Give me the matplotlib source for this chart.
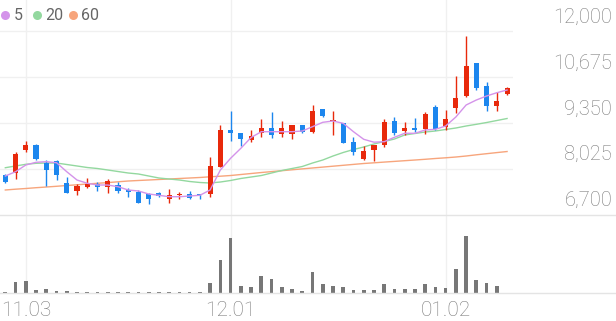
import matplotlib
matplotlib.use("Agg")
import matplotlib.pyplot as plt
from matplotlib.lines import Line2D
import numpy as np

# ---------------- data ----------------
opens  = [7835, 7893, 8568, 8713, 8183, 8241, 7604, 7381, 7488, 7583,
          7505, 7563, 7418, 7360, 7285, 7314, 7149, 7256, 7294, 7285,
          7294, 8084, 9156, 9069, 8858, 9052, 9214, 9023, 9031, 9292,
          9081, 9755, 9408, 9359, 8808, 8299, 8568, 8713, 9416, 9127,
          9214, 9167, 9804, 9225, 9776, 10132, 11079, 10430, 9851, 10190]
highs  = [7873, 8519, 8837, 8733, 8278, 8278, 7795, 7575, 7748, 7633,
          7719, 7641, 7459, 7400, 7331, 7352, 7447, 7343, 7389, 7285,
          8374, 9292, 9689, 9069, 9147, 9466, 9677, 9408, 9292, 9292,
          9871, 9755, 9697, 9359, 8953, 8684, 8713, 9466, 9515, 9387,
          9486, 9660, 9871, 9726, 10720, 11869, 11079, 10529, 10239, 10401]
lows   = [7604, 7719, 8519, 8270, 7525, 7699, 7314, 7256, 7459, 7381,
          7314, 7314, 7215, 7024, 7004, 7198, 7024, 7149, 7140, 7140,
          7198, 8067, 8829, 8684, 8808, 8953, 8907, 8953, 8878, 9060,
          9052, 9515, 8994, 8762, 8423, 8278, 8258, 8663, 9002, 9002,
          9098, 9023, 9147, 9147, 9648, 10112, 10306, 9706, 9706, 10161]
closes = [7650, 8452, 8704, 8316, 7989, 7844, 7331, 7534, 7592, 7505,
          7670, 7381, 7352, 7042, 7149, 7236, 7256, 7294, 7178, 7256,
          8105, 9147, 9069, 8895, 8973, 9196, 9002, 9196, 9292, 9081,
          9706, 9553, 9425, 8779, 8501, 8539, 8713, 9370, 9052, 9205,
          9147, 9610, 9167, 9474, 10083, 11001, 10372, 9842, 9996, 10355]
volumes = [7000, 110000, 120000, 30000, 37000, 20000, 20000, 9000, 9000, 9000,
           9000, 9000, 9000, 9000, 9000, 9000, 9000, 9000, 9000, 9000,
           103000, 327000, 550000, 70000, 60000, 170000, 143000, 60000, 37000, 21000,
           210000, 93000, 67000, 60000, 33000, 33000, 33000, 93000, 37000, 37000,
           40000, 87000, 60000, 55000, 237000, 573000, 130000, 103000, 67000, 3000]
ma5 = [7815, 7939, 8134, 8212, 8229, 8200, 7939, 7699, 7604, 7554,
       7554, 7505, 7410, 7381, 7294, 7256, 7215, 7215, 7236, 7256,
       7410, 7989, 8328, 8617, 8930, 9098, 9098, 9098, 9098, 9118,
       9243, 9370, 9408, 9341, 9098, 8878, 8794, 8808, 8936, 9052,
       9052, 9147, 9167, 9263, 9524, 9871, 10016, 10132, 10227, 10306]
ma20 = [8055, 8105, 8154, 8183, 8191, 8191, 8148, 8105, 8061, 8032,
        7989, 7945, 7902, 7873, 7815, 7757, 7728, 7699, 7656, 7627,
        7612, 7641, 7685, 7743, 7786, 7829, 7902, 7974, 8032, 8090,
        8191, 8278, 8394, 8496, 8582, 8655, 8742, 8814, 8886, 9002,
        9046, 9089, 9118, 9162, 9205, 9263, 9312, 9364, 9422, 9480]
ma60 = [7410, 7433, 7453, 7476, 7496, 7517, 7540, 7560, 7583, 7604,
        7624, 7647, 7670, 7685, 7699, 7714, 7728, 7743, 7757, 7772,
        7792, 7809, 7829, 7858, 7887, 7916, 7942, 7968, 7995, 8021,
        8047, 8073, 8099, 8125, 8151, 8177, 8197, 8218, 8238, 8258,
        8278, 8299, 8322, 8342, 8365, 8394, 8429, 8461, 8493, 8524]
ma_periods = [5, 20, 60]
price_ticks = [6700, 8025, 9350, 10675, 12000]
date_tick_pos = [2, 22, 43]
date_tick_labels = ["11.03", "12.01", "01.02"]

# ---------------- style ----------------
W, H = 616, 321
UP, DOWN = "#e8290b", "#1c86ee"
MA_COLORS = ["#d493ea", "#93d89f", "#f7a57c"]
GRID = "#f0f0f0"
SEP = "#e4e4e4"
TXT = "#7a7a7a"
FONT = "Roboto"

fig = plt.figure(figsize=(W / 100, H / 100), dpi=100)
fig.patch.set_facecolor("white")

def rect(x0, y0, x1, y1):
    return [x0 / W, 1 - y1 / H, (x1 - x0) / W, (y1 - y0) / H]

ax = fig.add_axes(rect(0, 0, 513, 214.5))
axv = fig.add_axes(rect(0, 215, 513, 293))

n = len(closes)
x = np.arange(n)
xlim = (-0.52, 49.58)

# price panel
span = price_ticks[-1] - price_ticks[0]
ax.set_ylim(price_ticks[0], price_ticks[-1] + span * 31.5 / 183.0)
ax.set_xlim(*xlim)
for t in price_ticks[1:]:
    ax.axhline(t, color=GRID, lw=1, zorder=0)
for p in date_tick_pos:
    ax.axvline(p, color=GRID, lw=1, zorder=0)
    axv.axvline(p, color=GRID, lw=1, zorder=0)

o = np.array(opens); c = np.array(closes); hi = np.array(highs); lo = np.array(lows)
cols = [UP if cc >= oo else DOWN for oo, cc in zip(o, c)]
ax.vlines(x, lo, hi, colors=cols, lw=1.0, zorder=2)
body_bottom = np.minimum(o, c)
body_h = np.maximum(np.abs(c - o), 25)
ax.bar(x, body_h, bottom=body_bottom, width=0.5, color=cols, zorder=3, linewidth=0)

for vals, col in zip([ma60, ma20, ma5], MA_COLORS[::-1]):
    ax.plot(x, vals, color=col, lw=1.0, zorder=1.5 if col != MA_COLORS[0] else 4)

for a in (ax, axv):
    for s in a.spines.values():
        s.set_visible(False)
    a.set_facecolor("none")
ax.set_xticks([]); ax.set_yticks([])

# right labels
for t in price_ticks:
    ax.annotate(f"{t:,}", xy=(612 / W, t), xycoords=(fig.transFigure, ax.transData),
                xytext=(0, 14 * 0.72), textcoords="offset points", ha="right", va="center",
                fontsize=14.5, color=TXT, family=FONT, fontweight="light",
                annotation_clip=False)

# volume panel
axv.set_xlim(*xlim)
axv.set_ylim(0, max(volumes) * 78.0 / 57.3)
axv.bar(x, volumes, width=0.36, color="#777777", linewidth=0, zorder=2)
axv.set_yticks([])
axv.set_xticks(date_tick_pos)
axv.set_xticklabels(date_tick_labels, fontsize=15, color=TXT, family=FONT, fontweight="light")
axv.tick_params(axis="x", length=0, pad=6)

# separator lines
fig.add_artist(Line2D([0, 1], [1 - 214.5 / H] * 2, color=SEP, lw=1))
fig.add_artist(Line2D([0, 1], [1 - 293 / H] * 2, color=SEP, lw=1))

# legend
lx = [5, 37, 73]
for xx, per, col in zip(lx, ma_periods, MA_COLORS):
    fig.add_artist(Line2D([xx / W], [1 - 15 / H], marker="o", markersize=6.5,
                          color=col, ls="", markeredgewidth=0))
    fig.text((xx + 8.5) / W, 1 - 15 / H, str(per), fontsize=11.5, color="#666666",
             family=FONT, va="center", ha="left")

fig.savefig("out.png", dpi=100)
